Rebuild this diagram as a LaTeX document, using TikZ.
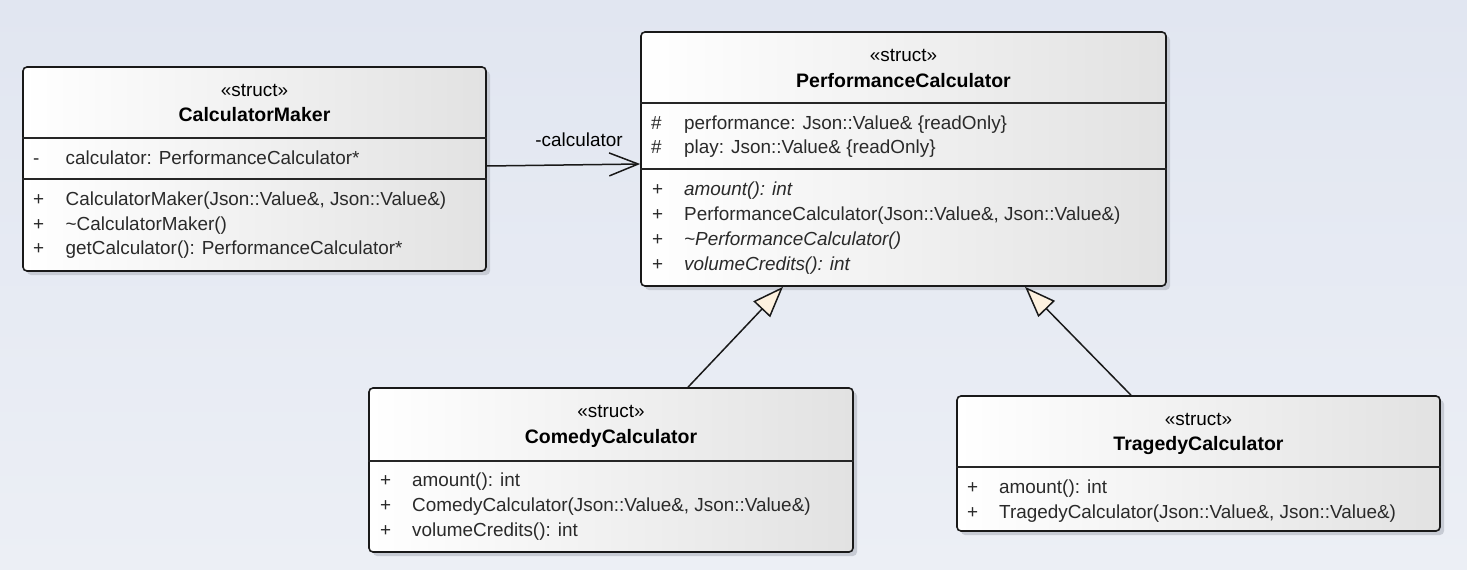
\documentclass[tikz,border=0pt]{standalone}
\usepackage{fontspec}
\setmainfont{Liberation Sans}
\usetikzlibrary{arrows.meta,shadows}
\definecolor{bgtop}{HTML}{E1E6F1}
\definecolor{bgbot}{HTML}{ECEFF5}
\definecolor{boxr}{HTML}{E2E2E2}
\definecolor{cream}{HTML}{FDF1DF}
\definecolor{memtxt}{HTML}{2A2A2A}
\definecolor{shadowc}{HTML}{C4C8D1}
\begin{document}
\begin{tikzpicture}[x=1pt,y=-1pt,
  umlbox/.style={draw=black!90, line width=1.6pt, rounded corners=4pt,
    left color=white, right color=boxr, inner sep=0pt,
    drop shadow={shadow xshift=4pt, shadow yshift=-4pt, fill=shadowc, opacity=0.9}},
  divider/.style={draw=black!85, line width=1.4pt},
  txt/.style={inner sep=0pt, font=\fontsize{18.9}{22}\selectfont},
  stereo/.style={txt, anchor=base},
  cname/.style={txt, anchor=base, font=\fontsize{19.5}{22}\selectfont\bfseries},
  mem/.style={txt, anchor=base west, text=memtxt},
  imem/.style={mem, font=\fontsize{18.9}{22}\selectfont\itshape},
  assoc/.style={draw=black!90, line width=1.5pt, -{Straight Barb[length=29pt,width=23pt]}},
  gen/.style={draw=black!90, line width=1.5pt, -{Triangle[length=31pt,width=23pt,fill=cream]}}
]
\useasboundingbox (0,0) rectangle (1467,570);
\shade[top color=bgtop, bottom color=bgbot] (0,0) rectangle (1467,570);

% ---------- CalculatorMaker
\node[umlbox, minimum width=463pt, minimum height=204pt] (cm) at (254.5,169) {};
\draw[divider] (cm.west |- 0,138) -- (cm.east |- 0,138);
\draw[divider] (cm.west |- 0,179) -- (cm.east |- 0,179);
\node[stereo] (cms) at (254.5,96) {«struct»};
\node[cname] (cmn) at (254.5,121) {CalculatorMaker};
\node[mem] (cma1v) at (33,164) {-};
\node[mem] (cma1) at (65.5,164) {calculator: PerformanceCalculator*};
\node[mem] (cmo1v) at (33,205) {+};
\node[mem] (cmo1) at (65.5,205) {CalculatorMaker(Json::Value\&, Json::Value\&)};
\node[mem] (cmo2v) at (33,230) {+};
\node[mem] (cmo2) at (65.5,230) {\textasciitilde CalculatorMaker()};
\node[mem] (cmo3v) at (33,254) {+};
\node[mem] (cmo3) at (65.5,254) {getCalculator(): PerformanceCalculator*};

% ---------- PerformanceCalculator
\node[umlbox, minimum width=525pt, minimum height=254pt] (pc) at (903.5,159) {};
\draw[divider] (pc.west |- 0,103) -- (pc.east |- 0,103);
\draw[divider] (pc.west |- 0,169) -- (pc.east |- 0,169);
\node[stereo] (pcs) at (903.5,61) {«struct»};
\node[cname] (pcn) at (903.5,87) {PerformanceCalculator};
\node[mem] (pca1v) at (651,129) {\#};
\node[mem] (pca1) at (684,129) {performance: Json::Value\& \{readOnly\}};
\node[mem] (pca2v) at (651,153) {\#};
\node[mem] (pca2) at (684,153) {play: Json::Value\& \{readOnly\}};
\node[mem] (pco1v) at (652,195) {+};
\node[imem] (pco1) at (684,195) {amount(): int};
\node[mem] (pco2v) at (652,220) {+};
\node[mem] (pco2) at (684,220) {PerformanceCalculator(Json::Value\&, Json::Value\&)};
\node[mem] (pco3v) at (652,245) {+};
\node[imem] (pco3) at (684,245) {\textasciitilde PerformanceCalculator()};
\node[mem] (pco4v) at (652,270) {+};
\node[imem] (pco4) at (684,270) {volumeCredits(): int};

% ---------- ComedyCalculator
\node[umlbox, minimum width=484pt, minimum height=164pt] (cc) at (611,470) {};
\draw[divider] (cc.west |- 0,461) -- (cc.east |- 0,461);
\node[stereo] (ccs) at (611,417) {«struct»};
\node[cname] (ccn) at (611,443) {ComedyCalculator};
\node[mem] (cco1v) at (380,486) {+};
\node[mem] (cco1) at (412,486) {amount(): int};
\node[mem] (cco2v) at (380,511) {+};
\node[mem] (cco2) at (412,511) {ComedyCalculator(Json::Value\&, Json::Value\&)};
\node[mem] (cco3v) at (380,536) {+};
\node[mem] (cco3) at (412,536) {volumeCredits(): int};

% ---------- TragedyCalculator
\node[umlbox, minimum width=483pt, minimum height=135pt] (tc) at (1198.5,463.5) {};
\draw[divider] (tc.west |- 0,467) -- (tc.east |- 0,467);
\node[stereo] (tcs) at (1198.5,425) {«struct»};
\node[cname] (tcn) at (1198.5,450) {TragedyCalculator};
\node[mem] (tco1v) at (967,493) {+};
\node[mem] (tco1) at (999,493) {amount(): int};
\node[mem] (tco2v) at (967,518) {+};
\node[mem] (tco2) at (999,518) {TragedyCalculator(Json::Value\&, Json::Value\&)};

% ---------- connectors
\draw[assoc] ([yshift=3pt]cm.east) -- ([yshift=-5pt]pc.west);
\node[stereo] (lbl) at (579,146) {-calculator};
\draw[gen] ([xshift=77pt]cc.north) -- ([xshift=-120.5pt]pc.south);
\draw[gen] ([xshift=-67.5pt]tc.north) -- ([xshift=121.5pt]pc.south);
\end{tikzpicture}
\end{document}
